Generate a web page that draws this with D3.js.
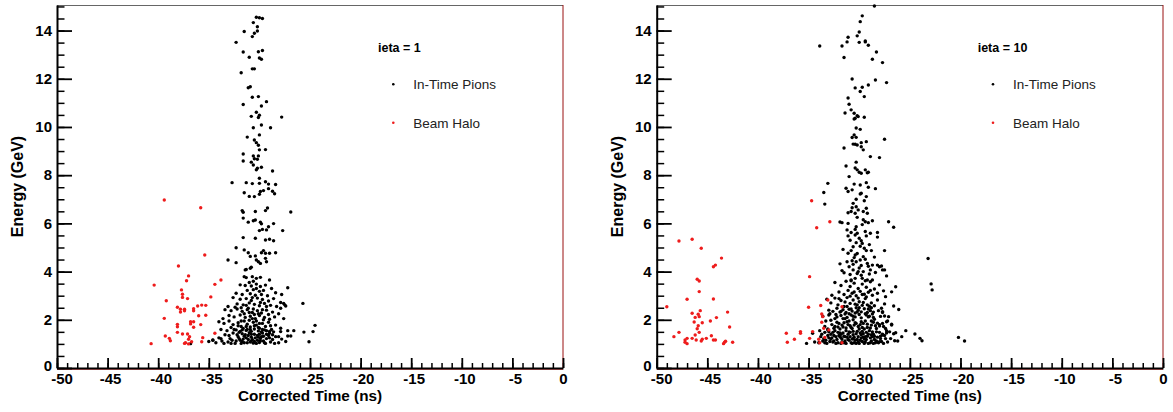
<!DOCTYPE html>
<html>
<head>
<meta charset="utf-8">
<script src="https://cdn.jsdelivr.net/npm/d3@7"></script>
<style>
  body { margin: 0; background: #fff; }
  svg { display: block; font-family: "Liberation Sans", Arial, sans-serif; }
</style>
</head>
<body>
<div id="chart"></div>
<script>
// tick values
const xTicks = [-50, -45, -40, -35, -30, -25, -20, -15, -10, -5, 0];
const yTicks = [0, 2, 4, 6, 8, 10, 12, 14];

// ieta = 1 : [corrected time (ns), energy (GeV)]
const pions1 = [
  [-30.3,14.55],[-30.0,14.53],[-29.7,14.50],[-30.6,14.33],[-30.2,14.16],[-31.5,13.96],[-30.2,13.98],[-30.5,13.89],
  [-30.7,13.75],[-32.3,13.51],[-31.6,13.11],[-30.1,13.12],[-29.7,13.17],[-31.0,12.89],[-30.0,12.86],[-29.8,12.81],
  [-30.7,12.41],[-30.5,12.41],[-31.8,12.25],[-31.1,11.63],[-30.9,11.67],[-30.7,11.23],[-30.1,11.26],[-29.3,11.05],
  [-31.6,10.93],[-29.8,10.87],[-30.3,10.61],[-30.8,10.44],[-30.0,10.49],[-30.1,10.39],[-27.8,10.41],[-29.8,10.08],
  [-30.6,9.97],[-28.9,9.97],[-30.0,9.67],[-31.2,9.58],[-30.5,9.46],[-30.3,9.35],[-30.1,9.24],[-30.0,9.05],
  [-29.4,9.06],[-31.6,8.88],[-31.6,8.59],[-30.6,8.80],[-30.1,8.80],[-30.5,8.68],[-30.2,8.66],[-30.8,8.54],
  [-30.6,8.42],[-30.2,8.29],[-29.8,8.33],[-30.3,8.22],[-28.7,8.17],[-30.0,7.87],
  [-32.7,7.69],[-31.3,7.69],[-30.7,7.65],[-30.0,7.66],[-29.4,7.73],[-29.1,7.63],[-28.4,7.61],
  [-31.5,7.27],[-31.0,7.12],[-30.5,7.11],[-30.0,7.21],[-29.9,7.32],[-29.6,7.36],[-29.1,7.44],[-28.7,7.33],[-28.5,7.23],
  [-31.7,6.53],[-31.6,6.46],[-30.4,6.49],[-29.4,6.53],[-29.2,6.64],[-26.9,6.47],
  [-31.6,6.22],[-31.1,6.05],[-30.6,6.11],[-30.4,6.14],[-29.9,6.05],[-29.8,5.98],[-28.6,5.99],
  [-30.0,5.70],[-29.7,5.75],[-29.3,5.73],[-29.1,5.86],[-27.7,5.70],
  [-31.6,5.41],[-30.4,5.38],[-29.4,5.31],[-29.0,5.34],[-28.6,5.28],
  [-32.3,4.99],[-31.5,4.90],[-31.1,4.78],[-30.9,4.63],[-30.4,4.65],[-30.3,4.48],[-29.8,4.78],[-29.6,4.87],
  [-29.4,4.76],[-29.0,4.76],[-28.4,4.78],
  [-33.1,4.48],[-32.3,4.37],[-31.4,4.07],[-31.3,4.09],[-30.9,4.14],[-30.8,4.18],[-30.1,4.41],[-29.9,4.34],
  [-29.4,4.55],[-29.3,4.41],
  [-31.5,3.79],[-31.3,3.75],[-30.7,3.79],[-30.3,3.72],[-29.9,3.76],[-29.0,3.65],[-27.2,3.33],
  [-24.5,1.77],[-24.7,1.51],[-25.6,1.49],[-25.1,1.09],[-26.9,1.33],[-27.2,1.33],[-28.1,1.30],[-25.7,2.68],
  [-27.9,2.48],[-27.6,2.68],[-27.4,2.57],[-27.9,1.51],[-36.8,1.01],[-34.6,1.16],
  [-31.9,3.45],[-31.4,3.42],[-30.8,3.40],[-30.3,3.48],[-29.9,3.38],[-29.4,3.44],[-28.8,3.30],[-31.2,3.22],
  [-30.6,3.25],[-30.0,3.18],[-29.6,3.22],[-28.4,3.12],[-32.3,3.10],[-31.7,3.05],[-30.9,3.08],[-30.4,3.02],
  [-29.8,3.05],[-29.2,3.00],[-27.8,3.05],
  [-32.6,2.92],[-31.9,2.85],[-31.3,2.88],[-30.8,2.80],[-30.2,2.90],[-29.7,2.84],[-29.1,2.78],[-28.6,2.88],
  [-27.9,2.72],[-32.2,2.66],[-31.6,2.62],[-31.0,2.70],[-30.5,2.64],[-30.0,2.58],[-29.5,2.68],[-28.9,2.60],
  [-28.3,2.55],[-27.5,2.62],[-33.1,2.55],[-32.4,2.52],
  [-33.4,2.42],[-32.8,2.38],[-32.2,2.45],[-31.7,2.35],[-31.2,2.42],[-30.7,2.30],[-30.2,2.38],[-29.8,2.28],
  [-29.3,2.40],[-28.7,2.32],[-28.1,2.25],[-33.0,2.18],[-32.5,2.12],[-31.9,2.20],[-31.4,2.10],[-30.9,2.15],
  [-30.4,2.05],[-30.0,2.18],[-29.5,2.10],[-29.0,2.02],[-28.5,2.12],[-27.6,2.05],[-33.6,2.05],[-31.1,2.48],[-30.5,2.22],
  [-34.0,1.92],[-33.5,1.85],[-33.0,1.95],[-32.6,1.80],[-32.1,1.88],[-31.8,1.72],[-31.5,1.95],[-31.2,1.82],
  [-30.9,1.70],[-30.6,1.90],[-30.3,1.78],[-30.0,1.65],[-29.7,1.85],[-29.4,1.72],[-29.1,1.90],[-28.8,1.60],
  [-28.4,1.78],[-27.9,1.65],[-27.2,1.55],[-33.8,1.60],[-33.2,1.55],[-32.8,1.68],[-32.3,1.58],[-31.9,1.52],
  [-31.6,1.64],[-31.3,1.56],[-30.8,1.52],[-30.5,1.62],[-30.1,1.54],[-29.8,1.50],[-29.5,1.58],[-29.0,1.52],
  [-28.6,1.50],[-26.6,1.55],
  [-35.0,1.10],[-34.6,1.15],[-34.3,1.05],[-34.0,1.25],[-33.7,1.12],[-33.4,1.38],[-33.1,1.08],[-32.9,1.22],
  [-32.6,1.45],[-32.4,1.02],[-32.1,1.30],[-31.9,1.15],[-31.7,1.42],[-31.5,1.05],[-31.3,1.25],[-31.1,1.35],
  [-30.9,1.08],[-30.7,1.18],[-30.5,1.40],[-30.3,1.02],[-30.1,1.28],[-29.9,1.12],[-29.7,1.45],[-29.5,1.05],
  [-29.3,1.22],[-29.1,1.35],[-28.9,1.08],[-28.7,1.18],[-28.4,1.30],[-28.1,1.05],[-27.8,1.20],[-27.4,1.10],
  [-31.8,1.02],[-31.2,1.05],[-30.6,1.03],[-30.0,1.06],[-29.4,1.02],[-31.6,1.20],[-30.8,1.28],[-30.2,1.15],
  [-29.6,1.32],[-32.0,1.48],[-31.0,1.46],[-30.0,1.40],[-29.0,1.44],[-32.8,1.02],[-33.5,1.02],[-28.5,1.02],
  [-32.3,1.12],[-32.0,1.22],[-31.7,1.10],[-31.4,1.38],[-31.1,1.18],[-30.8,1.40],[-30.5,1.10],[-30.2,1.35],
  [-29.9,1.22],[-29.6,1.12],[-29.3,1.40],[-29.0,1.25],[-28.7,1.38],[-32.5,1.60],[-32.1,1.75],[-31.7,1.58],
  [-31.3,1.72],[-30.9,1.60],[-30.5,1.75],[-30.1,1.68],[-29.7,1.60],[-29.3,1.55],[-28.9,1.75],[-31.5,2.25],
  [-31.0,2.30],[-30.6,2.45],[-30.1,2.25],[-29.7,2.42],[-29.1,2.22],[-31.8,1.95],[-31.0,1.98],[-30.3,1.95],
  [-29.6,2.00],[-30.8,1.12],[-31.5,1.32],[-30.4,1.25],[-29.8,1.30],[-31.2,1.60],[-30.0,1.85],[-30.7,2.05],
  [-32.2,1.38],[-33.0,1.35],[-33.8,1.22],[-32.7,1.15],[-31.3,2.60],[-30.7,2.92],[-29.9,2.72],[-29.3,2.55],
  [-31.8,2.50],[-30.3,3.30],[-30.6,3.60],[-31.0,3.55]
];
const halo1 = [
  [-39.4,6.97],[-35.8,6.65],[-35.4,4.69],[-38.0,4.23],[-40.4,3.44],[-37.0,3.82],[-37.2,3.62],[-33.8,3.65],
  [-34.4,3.47],[-37.7,3.24],[-37.6,3.06],[-37.6,2.93],[-37.1,2.88],[-34.8,2.95],[-39.2,2.79],
  [-38.1,2.52],[-37.8,2.44],[-37.8,2.32],[-37.4,2.44],[-37.4,2.37],[-36.5,2.46],[-36.5,2.37],[-36.1,2.57],
  [-35.7,2.61],[-35.3,2.60],[-36.0,2.17],[-35.3,2.19],[-39.4,2.06],
  [-38.1,1.81],[-38.1,1.71],[-36.8,1.92],[-36.5,1.92],[-36.8,1.83],[-36.5,1.69],[-35.8,1.80],
  [-38.1,1.48],[-37.6,1.41],[-37.1,1.41],[-34.4,1.44],[-39.3,1.33],[-38.9,1.23],[-38.8,1.13],
  [-36.9,1.30],[-37.0,1.19],[-36.7,1.09],[-37.3,1.05],[-37.4,1.02],[-37.0,1.00],[-35.6,1.26],[-35.7,1.09],[-40.7,1.01]
];

// ieta = 10
const pions10 = [
  [-28.5,15.02],[-29.7,14.61],[-29.9,14.37],[-30.0,13.94],[-30.2,13.78],[-31.1,13.72],[-31.2,13.53],[-30.0,13.51],
  [-29.4,13.57],[-29.4,13.53],[-29.1,13.39],[-31.7,13.36],[-33.9,13.36],[-28.3,13.11],[-31.5,12.88],[-28.7,12.81],
  [-27.7,12.67],[-30.7,11.99],[-28.4,11.95],[-27.3,11.84],[-29.1,11.74],[-29.7,11.65],[-30.4,11.62],[-29.9,11.47],
  [-29.5,11.26],[-31.1,11.20],[-31.0,10.94],[-30.8,10.71],[-31.4,10.58],[-30.5,10.57],[-30.2,10.47],[-30.1,10.43],
  [-30.4,10.36],[-29.5,10.40],[-30.5,10.33],[-30.3,9.96],[-29.9,9.90],[-30.5,9.67],[-30.7,9.56],[-30.3,9.57],
  [-27.5,9.49],[-30.6,9.29],[-30.4,9.28],[-30.2,9.25],[-29.8,9.35],[-29.3,9.39],[-29.8,9.18],[-29.6,9.05],
  [-31.5,9.13],[-28.9,8.77],[-28.0,8.73],[-31.3,8.38],[-30.3,8.54],[-30.4,8.30],[-30.2,8.22],[-30.0,8.12],
  [-29.8,8.08],[-29.4,8.22],[-29.2,8.10],[-29.1,8.12],[-31.0,7.94],
  [-33.1,7.66],[-33.5,7.28],[-33.4,6.80],[-31.3,7.46],[-31.1,7.32],[-30.7,7.39],[-30.5,7.63],[-29.9,7.59],
  [-29.8,7.25],[-29.3,7.69],[-29.1,7.50],[-28.4,7.44],[-29.3,7.11],[-29.5,6.94],[-29.9,7.22],
  [-30.6,6.83],[-30.3,6.69],[-30.1,6.56],[-30.8,6.49],[-31.1,6.44],[-29.6,6.49],[-29.3,6.63],[-29.2,6.42],[-30.4,6.42],
  [-31.9,6.06],[-31.7,6.03],[-31.1,6.00],[-30.3,5.86],[-29.4,6.07],[-29.1,6.03],[-28.7,6.11],[-27.1,6.07],[-26.6,5.84],
  [-31.2,5.73],[-30.8,5.62],[-30.4,5.52],[-30.2,5.59],[-31.1,5.48],[-29.4,5.66],[-28.9,5.59],[-28.2,5.62],
  [-28.2,5.43],[-29.3,5.48],[-30.0,5.38],[-29.7,5.17],[-30.3,5.20],[-30.6,5.03],[-30.8,4.87],[-31.1,4.76],
  [-30.4,4.69],[-29.3,4.87],[-28.8,4.87],[-27.5,4.87],[-29.5,4.97],[-23.2,4.54],
  [-31.9,4.32],[-31.2,4.41],[-30.7,4.45],[-30.3,4.41],[-29.9,4.48],[-29.4,4.51],[-29.2,4.34],[-28.7,4.27],
  [-28.2,4.27],[-27.8,4.23],[-27.5,4.07],[-31.7,4.04],[-30.6,4.07],[-30.1,4.00],[-29.6,4.00],[-28.9,4.07],
  [-30.8,3.65],[-30.4,3.72],[-29.7,3.72],[-29.2,3.65],[-28.7,3.65],[-27.3,3.82],[-22.9,3.49],[-22.8,3.24],
  [-26.4,3.37],[-26.8,3.16],[-27.4,2.96],[-26.6,2.57],[-26.1,2.43],[-27.1,2.13],[-27.3,1.92],[-26.8,1.78],
  [-27.3,1.55],[-26.4,1.46],[-25.4,1.55],[-24.5,1.41],[-24.0,1.23],[-23.8,1.13],[-26.5,1.13],[-20.2,1.27],
  [-19.6,1.12],[-28.0,4.20],[-27.7,4.07],[-27.7,2.34],[-27.5,2.16],[-27.7,1.85],[-28.0,1.74],[-27.7,1.37],
  [-28.0,1.09],[-35.2,1.02],[-34.6,1.44],
  [-31.5,3.95],[-30.9,3.88],[-30.2,3.92],[-29.8,3.85],[-29.0,3.90],[-28.4,3.96],[-31.0,4.20],[-30.0,4.15],
  [-29.1,4.22],[-30.5,4.58],[-29.6,4.62],[-30.9,5.30],[-29.8,5.28],[-29.0,5.12],[-31.6,4.92],[-28.5,4.60],
  [-32.4,3.55],[-31.8,3.42],[-31.3,3.60],[-30.9,3.38],[-30.5,3.52],[-30.1,3.30],[-29.7,3.48],[-29.3,3.35],
  [-28.9,3.58],[-28.5,3.28],[-28.0,3.45],[-27.6,3.20],[-32.0,3.15],[-31.5,3.05],[-31.1,3.22],[-30.7,3.10],
  [-30.3,3.00],[-29.9,3.18],[-29.5,3.06],[-29.1,3.14],[-28.7,3.02],[-28.2,3.10],[-32.7,3.02],[-30.8,3.62],[-29.4,3.62],
  [-33.2,2.85],[-32.8,2.70],[-32.4,2.90],[-32.1,2.62],[-31.8,2.80],[-31.5,2.55],[-31.2,2.92],[-30.9,2.68],
  [-30.6,2.82],[-30.3,2.50],[-30.0,2.75],[-29.7,2.60],[-29.4,2.88],[-29.1,2.45],[-28.8,2.70],[-28.5,2.58],
  [-28.2,2.82],[-27.8,2.48],[-27.5,2.66],[-33.0,2.40],[-32.6,2.35],[-32.2,2.48],[-31.9,2.32],[-31.6,2.42],
  [-31.3,2.30],[-31.0,2.44],[-30.7,2.36],[-30.4,2.28],[-30.1,2.40],[-29.8,2.33],[-29.5,2.46],[-29.2,2.30],
  [-28.9,2.38],[-28.6,2.32],[-28.1,2.38],[-27.7,2.30],[-31.4,2.74],[-30.2,2.62],[-29.0,2.56],[-32.0,2.88],
  [-33.6,2.15],[-33.3,1.95],[-33.0,2.20],[-32.7,1.80],[-32.4,2.05],[-32.1,1.70],[-31.8,2.18],[-31.5,1.88],
  [-31.2,2.10],[-30.9,1.75],[-30.6,2.00],[-30.3,1.85],[-30.0,2.22],[-29.7,1.68],[-29.4,1.95],[-29.1,2.12],
  [-28.8,1.78],[-28.5,2.02],[-28.2,1.86],[-27.9,2.14],[-27.6,1.72],[-27.2,1.95],[-26.8,1.82],
  [-33.4,1.72],[-33.1,1.62],[-32.8,1.98],[-32.5,1.65],[-32.2,1.90],[-31.9,1.62],[-31.6,2.05],[-31.3,1.66],
  [-31.0,1.95],[-30.7,1.64],[-30.4,2.12],[-30.1,1.72],[-29.8,1.92],[-29.5,1.62],[-29.2,1.82],[-28.9,1.66],
  [-28.6,1.90],[-28.3,1.64],[-28.0,1.80],[-27.4,1.64],
  [-32.9,2.25],[-32.3,2.22],[-31.7,1.78],[-31.1,1.80],[-30.5,1.78],[-29.9,1.80],[-29.3,2.20],[-28.7,2.24],
  [-31.4,2.24],[-30.8,2.20],
  [-34.0,1.05],[-33.8,1.30],[-33.6,1.12],[-33.4,1.48],[-33.2,1.02],[-33.0,1.25],[-32.8,1.40],[-32.6,1.08],
  [-32.4,1.55],[-32.2,1.18],[-32.0,1.35],[-31.8,1.02],[-31.6,1.45],[-31.4,1.12],[-31.2,1.28],[-31.0,1.50],
  [-30.8,1.05],[-30.6,1.38],[-30.4,1.15],[-30.2,1.52],[-30.0,1.02],[-29.8,1.25],[-29.6,1.42],[-29.4,1.08],
  [-29.2,1.32],[-29.0,1.55],[-28.8,1.12],[-28.6,1.40],[-28.4,1.05],[-28.2,1.28],[-28.0,1.48],[-27.8,1.10],
  [-27.5,1.35],[-27.2,1.08],[-26.9,1.22],[-26.6,1.42],[-26.2,1.12],[-25.8,1.30],
  [-33.9,1.55],[-33.5,1.22],[-33.1,1.58],[-32.7,1.25],[-32.3,1.02],[-31.9,1.30],[-31.5,1.05],[-31.1,1.40],
  [-30.7,1.20],[-30.3,1.02],[-29.9,1.45],[-29.5,1.20],[-29.1,1.02],[-28.7,1.30],[-28.3,1.50],[-27.9,1.22],
  [-27.6,1.02],[-27.0,1.50],
  [-33.7,1.40],[-33.3,1.15],[-32.9,1.10],[-32.5,1.35],[-32.1,1.48],[-31.7,1.20],[-31.3,1.55],[-30.9,1.30],
  [-30.5,1.05],[-30.1,1.30],[-29.7,1.10],[-29.3,1.48],[-28.9,1.25],[-28.5,1.18],[-28.1,1.05],[-27.7,1.40],
  [-32.6,1.48],[-31.8,1.40],[-31.0,1.15],[-30.2,1.18],[-29.4,1.30],[-28.6,1.02],[-27.4,1.22],[-34.4,1.08],
  [-33.0,1.50],[-31.4,1.30],[-30.6,1.52],[-29.8,1.38],
  [-32.5,1.12],[-32.3,1.30],[-32.1,1.05],[-31.9,1.45],[-31.7,1.08],[-31.5,1.32],[-31.3,1.02],[-31.1,1.18],
  [-30.9,1.48],[-30.7,1.02],[-30.5,1.28],[-30.3,1.42],[-30.1,1.08],[-29.9,1.15],[-29.7,1.52],[-29.5,1.02],
  [-29.3,1.18],[-29.1,1.40],[-28.9,1.05],[-28.7,1.50],[-28.5,1.32],[-28.3,1.12],
  [-32.4,1.72],[-32.0,1.85],[-31.6,1.70],[-31.2,1.92],[-30.8,1.68],[-30.4,1.88],[-30.0,1.62],[-29.6,1.85],
  [-29.2,1.68],[-28.8,1.95],[-28.4,1.75],
  [-32.2,2.12],[-31.8,2.35],[-31.4,2.05],[-31.0,2.25],[-30.6,2.15],[-30.2,2.32],[-29.8,2.08],[-29.4,2.25],
  [-29.0,2.15],[-28.6,2.10],
  [-31.2,2.55],[-30.8,2.45],[-30.4,2.65],[-30.0,2.50],[-29.6,2.72],[-29.2,2.62],[-28.8,2.50],
  [-30.9,2.98],[-30.5,3.15],[-30.1,2.90],[-29.7,3.05],[-29.3,2.95],[-28.9,3.22],
  [-33.4,1.05],[-33.1,1.35],[-32.8,1.20],[-31.8,1.25],[-30.6,1.22],[-29.6,1.28],[-28.8,1.38],[-27.9,1.32],[-27.3,1.45],
  [-30.6,4.30],[-29.8,4.25],[-30.2,4.75],[-29.9,5.05],[-30.4,5.75],[-29.7,5.95],[-30.2,6.25],[-29.6,6.15],
  [-30.3,7.00],[-30.7,6.65]
];
const halo10 = [
  [-47.8,5.27],[-46.5,5.34],[-45.6,4.97],[-43.6,4.56],[-44.4,4.20],[-44.2,4.27],[-46.0,3.68],[-45.8,3.61],
  [-45.8,3.17],[-47.0,2.85],[-44.4,2.86],[-49.0,2.54],
  [-46.5,2.27],[-45.9,2.23],[-45.7,2.38],[-45.8,2.13],[-46.2,2.10],[-46.3,1.91],[-45.5,1.88],[-45.9,1.75],
  [-46.0,1.63],[-45.8,1.48],[-44.7,1.95],[-44.1,2.09],[-43.0,2.32],[-42.8,1.70],
  [-48.3,1.30],[-47.8,1.48],[-47.2,1.16],[-47.0,1.23],[-47.2,1.07],[-47.0,1.01],[-46.5,1.23],[-46.2,1.37],
  [-46.1,1.16],[-45.6,1.12],[-45.5,1.19],[-45.1,1.23],[-44.6,1.34],[-44.4,1.16],[-44.2,1.16],[-43.4,1.01],
  [-43.3,1.07],[-43.2,1.11],[-42.5,1.07],
  [-32.9,6.07],[-34.2,5.82],[-34.7,6.94],[-34.9,3.79],[-33.1,2.82],[-33.8,2.59],[-35.0,2.52],[-33.7,2.24],
  [-33.6,2.13],[-33.7,1.90],[-31.7,2.54],[-33.5,1.65],[-33.0,1.58],[-34.6,1.51],[-35.8,1.51],[-35.8,1.44],
  [-37.2,1.44],[-36.4,1.19],[-37.1,1.07],[-34.9,1.23],[-34.0,1.19],[-33.9,1.05],[-33.4,1.27],[-31.7,1.05]
];

const panels = [
  { label: "ieta = 1", pions: pions1, halo: halo1, left: 57, right: 563 },
  { label: "ieta = 10", pions: pions10, halo: halo10, left: 656.7, right: 1163 }
];

const width = 1173;
const height = 412;
const plotTop = 5, plotBottom = 368;
const pionColor = "#000";
const haloColor = "#ee1c1c";

const svg = d3.select("#chart")
  .append("svg")
  .attr("width", width)
  .attr("height", height);

panels.forEach(p => {
  const g = svg.append("g");

  const x = d3.scaleLinear().domain([-50, 0]).range([p.left, p.right]);
  const y = d3.scaleLinear().domain([0, 15.06]).range([plotBottom, plotTop]);

  // frame (top and right)
  g.append("line")
    .attr("x1", p.left).attr("x2", p.right)
    .attr("y1", plotTop + 0.5).attr("y2", plotTop + 0.5)
    .attr("stroke", "#666");
  g.append("line")
    .attr("x1", p.right).attr("x2", p.right)
    .attr("y1", plotTop).attr("y2", plotBottom)
    .attr("stroke", "#9a1010");
  g.append("line")
    .attr("x1", p.left).attr("x2", p.right)
    .attr("y1", plotBottom + 1.5).attr("y2", plotBottom + 1.5)
    .attr("stroke", "#f07070");

  // points
  g.append("g").selectAll("circle")
    .data(p.pions)
    .join("circle")
    .attr("cx", d => x(d[0]))
    .attr("cy", d => y(d[1]))
    .attr("r", 1.7)
    .attr("fill", pionColor);

  g.append("g").selectAll("circle")
    .data(p.halo)
    .join("circle")
    .attr("cx", d => x(d[0]))
    .attr("cy", d => y(d[1]))
    .attr("r", 1.7)
    .attr("fill", haloColor);

  // minor ticks
  g.append("g")
    .attr("transform", `translate(${p.left},0)`)
    .call(d3.axisLeft(y).tickValues(d3.range(0, 15.01, 0.5)).tickSizeInner(-7.5).tickSizeOuter(0).tickFormat(""))
    .call(a => a.select(".domain").remove())
    .selectAll("line").attr("stroke-width", 1.5);

  g.append("g")
    .attr("transform", `translate(0,${plotBottom})`)
    .call(d3.axisBottom(x).tickValues(d3.range(-50, 0.01, 1)).tickSizeInner(-5).tickSizeOuter(0).tickFormat(""))
    .call(a => a.select(".domain").remove())
    .selectAll("line").attr("stroke-width", 1.5);

  // Y Axis
  const yAxis = g.append("g")
    .attr("transform", `translate(${p.left},0)`)
    .call(d3.axisLeft(y).tickValues(yTicks).tickSizeInner(-15).tickSizeOuter(0).tickPadding(5).tickFormat(d => String(d)));
  yAxis.select(".domain").attr("stroke-width", 2);
  yAxis.selectAll("line").attr("stroke-width", 1.8);
  yAxis.selectAll("text")
    .attr("dy", d => d === 0 ? "0.15em" : "0.32em")
    .style("font-size", "15px")
    .style("font-weight", "bold")
    .attr("fill", "#000");

  // X Axis (digits centred on the tick, minus sign hanging left)
  const xAxis = g.append("g")
    .attr("transform", `translate(0,${plotBottom})`)
    .call(d3.axisBottom(x).tickValues(xTicks).tickSizeInner(-10).tickSizeOuter(0).tickPadding(5).tickFormat(d => String(d)));
  xAxis.select(".domain").attr("stroke-width", 2);
  xAxis.selectAll("line").attr("stroke-width", 1.8);
  xAxis.selectAll("text")
    .attr("dx", d => d === -50 ? 4.5 : (d < 0 ? 2.5 : 0))
    .style("font-size", "15px")
    .style("font-weight", "bold")
    .attr("fill", "#000");

  // axis titles
  g.append("text")
    .attr("x", (p.left + p.right) / 2)
    .attr("y", 401)
    .attr("text-anchor", "middle")
    .style("font-size", "15.3px")
    .style("font-weight", "bold")
    .text("Corrected Time (ns)");

  g.append("text")
    .attr("transform", "rotate(-90)")
    .attr("x", -(plotTop + plotBottom) / 2)
    .attr("y", p.left - 34)
    .attr("text-anchor", "middle")
    .style("font-size", "16px")
    .style("font-weight", "bold")
    .text("Energy (GeV)");

  // legend
  g.append("text")
    .attr("x", p.left + 321)
    .attr("y", 51.5)
    .style("font-size", "12.5px")
    .style("font-weight", "bold")
    .text(p.label);

  const legend = [
    { name: "In-Time Pions", color: pionColor, y: 84.3 },
    { name: "Beam Halo", color: haloColor, y: 122.7 }
  ];
  legend.forEach(l => {
    g.append("circle")
      .attr("cx", p.left + 336.3)
      .attr("cy", l.y)
      .attr("r", 1.3)
      .attr("fill", l.color);
    g.append("text")
      .attr("x", p.left + 356.3)
      .attr("y", l.y + 4.8)
      .style("font-size", "13.5px")
      .attr("fill", "#222")
      .text(l.name);
  });
});
</script>
</body>
</html>
